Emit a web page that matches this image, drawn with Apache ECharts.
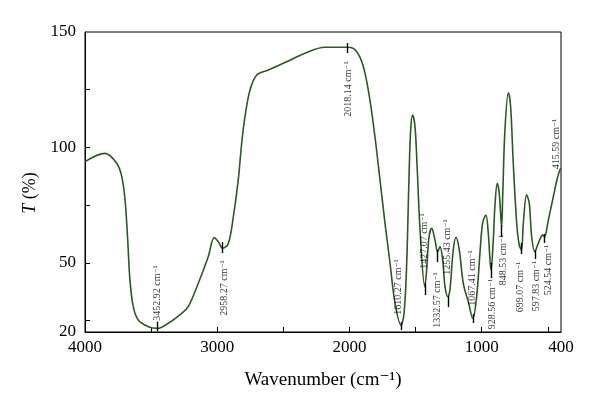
<!DOCTYPE html>
<html>
<head>
<meta charset="utf-8">
<script src="https://cdn.jsdelivr.net/npm/echarts@6/dist/echarts.min.js"></script>
<style>
html,body{margin:0;padding:0;background:#fff;}
#chart{width:600px;height:409px;}
</style>
</head>
<body>
<div id="chart"></div>
<script>
// Spectrum data
const wavenumber = [4000, 3849, 3760, 3722, 3697, 3677, 3660, 3635, 3597, 3521, 3453, 3370, 3269, 3219, 3143, 3068, 3022, 2992, 2958, 2916, 2878, 2841, 2815, 2790, 2752, 2701, 2614, 2475, 2349, 2185, 2018, 1971, 1920, 1882, 1845, 1807, 1769, 1731, 1693, 1655, 1610, 1587, 1567, 1550, 1537, 1522, 1504, 1487, 1466, 1430, 1416, 1398, 1378, 1353, 1333, 1315, 1295, 1277, 1255, 1240, 1215, 1194, 1169, 1139, 1101, 1067, 1038, 1013, 993, 968, 950, 929, 912, 900, 882, 867, 849, 841, 824, 798, 781, 761, 735, 716, 699, 685, 660, 640, 622, 598, 572, 539, 525, 496, 458, 428, 408, 400];
const transmittance = [93.8, 97.4, 93.1, 87.3, 77.2, 59.9, 42.5, 31, 25.2, 22.3, 21.6, 23.8, 28.1, 31, 41.1, 52.6, 60.9, 59.1, 56.3, 58.4, 70, 85.9, 101.8, 113.3, 124.9, 131.4, 133.5, 137.1, 140.5, 143.4, 143.4, 142.9, 139, 132.1, 120.5, 104.6, 85.9, 67.1, 49.8, 32.4, 23, 28.1, 49.8, 85.9, 107.5, 114, 108.9, 90.2, 64.2, 39.6, 46.9, 61.3, 64.9, 59.9, 54.8, 57, 51.2, 39.6, 35.3, 38.2, 55.5, 61, 55.5, 41.1, 33.1, 25.9, 35.3, 54.1, 67.1, 70.7, 62.8, 46.9, 59.9, 74.3, 84.4, 80.1, 65.6, 78.6, 107.5, 123.7, 117.6, 93.1, 67.1, 57.7, 55.5, 67.1, 79.4, 75.8, 61.3, 54.8, 58.4, 62, 61.3, 68.5, 78.6, 86.6, 90.2, 91];

// Peak annotations
const peakLabels = ['3452.92', '2958.27', '2018.14', '1610.27', '1427.07', '1332.57', '1255.43', '1067.41', '928.56', '848.53', '699.07', '597.83', '524.54', '415.59'];
const peakWavenumber = [3452.92, 2958.27, 2018.14, 1610.27, 1427.07, 1332.57, 1255.43, 1067.41, 928.56, 848.53, 699.07, 597.83, 524.54, null];
const peakTickFrom = [20.3, 54.2, 140.9, 20.9, 36.0, 50.3, 30.8, 23.9, 43.4, 61.2, 53.8, 51.6, 58.6, null];
const peakTickTo = [24.5, 59.0, 145.2, 24.3, 41.2, 55.5, 35.6, 27.8, 49.9, 66.4, 58.6, 55.5, 62.5, null];
const labelWavenumber = [3455, 2949, 2011, 1633, 1436, 1338, 1262, 1073, 922, 839, 710, 589, 498, 438];
const labelT = [36.9, 39.1, 125.3, 39.5, 59.4, 33.9, 56.8, 43.4, 32.1, 51.2, 39.5, 39.9, 46.9, 101.5];

// Axis ticks
const xLabelValues = [4000, 3000, 2000, 1000, 400];
const xTickValues = [3500, 3000, 2500, 2000, 1500, 1000, 500];
const yLabelValues = [20, 50, 100, 150];
const yTickValues = [25, 50, 75, 100, 125];

const serif = "'Liberation Serif', 'DejaVu Serif', serif";

const lineData = wavenumber.map((w, i) => [w, transmittance[i]]);
const tickLines = [];
peakWavenumber.forEach((w, i) => {
  if (w !== null) tickLines.push([{coord: [w, peakTickFrom[i]]}, {coord: [w, peakTickTo[i]]}]);
});
const labelData = peakLabels.map((l, i) => ({value: [labelWavenumber[i], labelT[i]], name: l + ' cm\u207B\u00B9'}));

const chart = echarts.init(document.getElementById('chart'));
chart.setOption({
  animation: false,
  backgroundColor: '#fff',
  grid: {left: 85, right: 39, top: 32, bottom: 77, show: true, borderColor: '#000', borderWidth: 1, containLabel: false},
  xAxis: {
    type: 'value', inverse: true, min: 400, max: 4000,
    name: 'Wavenumber (cm\u207B\u00B9)', nameLocation: 'middle', nameGap: 39,
    nameTextStyle: {fontFamily: serif, fontSize: 19, color: '#000'},
    axisLine: {show: true, lineStyle: {color: '#000', width: 1}},
    axisTick: {show: true, inside: true, length: 5, customValues: xTickValues, lineStyle: {color: '#000'}},
    axisLabel: {customValues: xLabelValues, formatter: v => String(v), fontFamily: serif, fontSize: 17, color: '#000', margin: 7},
    splitLine: {show: false}
  },
  yAxis: {
    type: 'value', min: 20, max: 150,
    name: '{i|T} (%)', nameLocation: 'middle', nameGap: 45,
    nameTextStyle: {fontFamily: serif, fontSize: 18, color: '#000', padding: [0, 22, 0, 0],
      rich: {i: {fontFamily: serif, fontSize: 18, fontStyle: 'italic', color: '#000'}}},
    axisLine: {show: true, lineStyle: {color: '#000', width: 1}},
    axisTick: {show: true, inside: true, length: 5, customValues: yTickValues, lineStyle: {color: '#000'}},
    axisLabel: {customValues: yLabelValues, formatter: v => String(v), fontFamily: serif, fontSize: 17, color: '#000', margin: 9},
    splitLine: {show: false}
  },
  series: [
    {
      type: 'line', data: lineData, showSymbol: false, smooth: 0.35,
      lineStyle: {color: '#2a5a1f', width: 1.6},
      markLine: {
        silent: true, symbol: ['none', 'none'],
        lineStyle: {color: '#000', width: 1.4, type: 'solid'},
        label: {show: false},
        data: tickLines
      }
    },
    {
      type: 'scatter', data: labelData, symbolSize: 1, itemStyle: {color: 'rgba(0,0,0,0)'}, silent: true,
      label: {show: true, position: 'inside', rotate: 90, formatter: p => p.name,
        fontFamily: serif, fontSize: 10, color: '#000'},
      labelLayout: {hideOverlap: false},
      z: 5
    }
  ]
});
</script>
</body>
</html>
